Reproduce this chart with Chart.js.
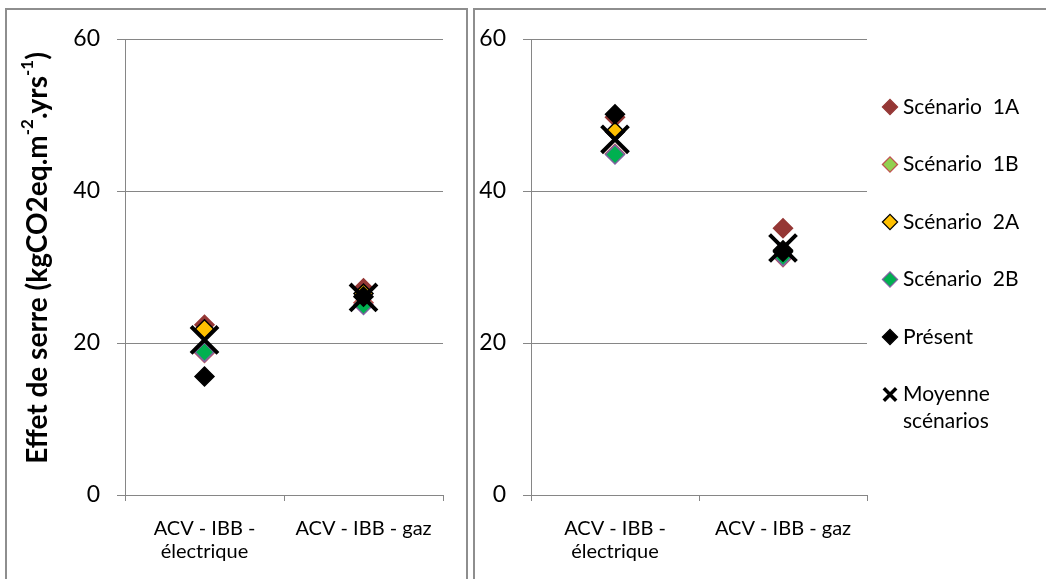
<!DOCTYPE html>
<html>
<head>
<meta charset="utf-8">
<script src="https://cdn.jsdelivr.net/npm/chart.js@4/dist/chart.umd.min.js"></script>
<style>
  html, body { margin: 0; padding: 0; background: #ffffff; width: 1046px; height: 579px; overflow: hidden; }
  .box { position: absolute; border: 2px solid #8e8e8e; box-sizing: border-box; }
  #boxL { left: 5px; top: 8px; width: 463px; height: 600px; }
  #boxR { left: 473px; top: 8px; width: 600px; height: 600px; }
  canvas { position: absolute; left: 0; top: 0; }
</style>
</head>
<body>
<div class="box" id="boxL"></div>
<div class="box" id="boxR"></div>
<canvas id="cL" width="1046" height="579"></canvas>
<canvas id="cR" width="1046" height="579"></canvas>
<script>
// ---- data ----
const categories = [["ACV - IBB -", "électrique"], "ACV - IBB - gaz"];
const seriesNames = ["Scénario  1A", "Scénario  1B", "Scénario  2A", "Scénario  2B", "Présent", "Moyenne scénarios"];
const legendLines = [["Scénario  1A"], ["Scénario  1B"], ["Scénario  2A"], ["Scénario  2B"], ["Présent"], ["Moyenne", "scénarios"]];
const yTicks = [0, 20, 40, 60];
const yTitleMain = "Effet de serre (kgCO2eq.m";
const yTitleSup1 = "-2";
const yTitleMid = ".yrs";
const yTitleSup2 = "-1";
const yTitleEnd = ")";

// left panel
const left1A = [22.4, 27.2];
const left1B = [18.7, 25.3];
const left2A = [21.8, 26.5];
const left2B = [18.8, 25.0];
const leftPresent = [15.6, 26.1];
const leftMean = [20.4, 26.0];

// right panel
const right1A = [49.7, 35.1];
const right1B = [44.9, 31.3];
const right2A = [47.8, 32.2];
const right2B = [44.8, 31.4];
const rightPresent = [50.1, 32.0];
const rightMean = [46.8, 32.5];

// ---- styles ----
const FONT = "Lato, 'Open Sans', sans-serif";
const GRID = "#868686";
const seriesStyles = [
  { pointStyle: "rectRot", backgroundColor: "#953735", borderColor: "#953735", borderWidth: 1.5, radius: 9.5 },
  { pointStyle: "rectRot", backgroundColor: "#92D050", borderColor: "#C0504D", borderWidth: 1.5, radius: 9.5 },
  { pointStyle: "rectRot", backgroundColor: "#FFC000", borderColor: "#000000", borderWidth: 1.5, radius: 9.5 },
  { pointStyle: "rectRot", backgroundColor: "#00B050", borderColor: "#8064A2", borderWidth: 1.5, radius: 9.5 },
  { pointStyle: "rectRot", backgroundColor: "#000000", borderColor: "#000000", borderWidth: 1.5, radius: 9.5 },
  { pointStyle: "crossRot", backgroundColor: "#000000", borderColor: "#000000", borderWidth: 4, radius: 19 }
];
const legendMarkerScale = [0.8, 0.8, 0.8, 0.8, 0.8, 0.46];

function makeDatasets(arrs) {
  return arrs.map((data, i) => ({
    label: seriesNames[i],
    data: data,
    showLine: false,
    order: arrs.length - i,
    pointStyle: seriesStyles[i].pointStyle,
    pointRadius: seriesStyles[i].radius,
    pointHoverRadius: seriesStyles[i].radius,
    pointBackgroundColor: seriesStyles[i].backgroundColor,
    pointBorderColor: seriesStyles[i].borderColor,
    pointBorderWidth: seriesStyles[i].borderWidth,
    backgroundColor: seriesStyles[i].backgroundColor,
    borderColor: seriesStyles[i].borderColor
  }));
}

function makeScales() {
  return {
    x: {
      type: "category",
      offset: true,
      grid: { display: true, drawOnChartArea: false, drawTicks: true, tickLength: 6, color: GRID, offset: true },
      border: { display: true, color: GRID, width: 1 },
      ticks: { color: "#000", font: { family: FONT, size: 20, lineHeight: 1.15 }, padding: 16, maxRotation: 0, autoSkip: false },
      afterFit: (s) => { s.height = 70; }
    },
    y: {
      min: 0, max: 60,
      afterBuildTicks: (s) => { s.ticks = yTicks.map(v => ({ value: v })); },
      grid: { color: GRID, drawTicks: true, tickLength: 8, lineWidth: 1 },
      border: { display: true, color: GRID, width: 1 },
      ticks: { color: "#000", font: { family: FONT, size: 23 }, padding: 17 },
      afterFit: (s) => { s.width = 60; }
    }
  };
}

const yTitlePlugin = {
  id: "yTitle",
  afterDraw(chart) {
    const ctx = chart.ctx;
    const big = "bold 28px " + FONT;
    const small = "bold 17px " + FONT;
    const parts = [
      [yTitleMain, big, 0], [yTitleSup1, small, -10], [yTitleMid, big, 0], [yTitleSup2, small, -10], [yTitleEnd, big, 0]
    ];
    ctx.save();
    let total = 0;
    parts.forEach(p => { ctx.font = p[1]; total += ctx.measureText(p[0]).width; });
    ctx.translate(38, 258);
    ctx.rotate(-Math.PI / 2);
    ctx.fillStyle = "#000";
    ctx.textBaseline = "middle";
    ctx.textAlign = "left";
    let x = -total / 2;
    parts.forEach(p => { ctx.font = p[1]; ctx.fillText(p[0], x, p[2]); x += ctx.measureText(p[0]).width; });
    ctx.restore();
  }
};

const legendPlugin = {
  id: "sideLegend",
  afterDraw(chart) {
    const ctx = chart.ctx;
    const markerX = 890, textX = 903, startY = 107, step = 57.5, lineH = 27;
    ctx.save();
    ctx.font = "21px " + FONT;
    ctx.textBaseline = "middle";
    ctx.textAlign = "left";
    let y = startY;
    chart.data.datasets.forEach((ds, i) => {
      const st = seriesStyles[i];
      ctx.fillStyle = st.backgroundColor;
      ctx.strokeStyle = st.borderColor;
      ctx.lineWidth = st.pointStyle === "crossRot" ? 3.5 : 1.2;
      Chart.helpers.drawPoint(ctx, { pointStyle: st.pointStyle, radius: st.radius * legendMarkerScale[i], rotation: 0, borderWidth: ctx.lineWidth }, markerX, y);
      ctx.fillStyle = "#000";
      legendLines[i].forEach((l, k) => ctx.fillText(l, textX, y + k * lineH));
      y += step;
    });
    ctx.restore();
  }
};

function makeChart(id, arrs, padLeft, padRight, plugins) {
  return new Chart(document.getElementById(id), {
    type: "line",
    data: { labels: categories, datasets: makeDatasets(arrs) },
    options: {
      responsive: false,
      animation: false,
      events: [],
      layout: { padding: { left: padLeft, right: padRight, top: 39, bottom: 579 - 495 - 70 } },
      plugins: { legend: { display: false }, tooltip: { enabled: false } },
      scales: makeScales()
    },
    plugins: plugins
  });
}

makeChart("cL", [left1A, left1B, left2A, left2B, leftPresent, leftMean], 125 - 60, 1046 - 443, [yTitlePlugin]);
makeChart("cR", [right1A, right1B, right2A, right2B, rightPresent, rightMean], 531 - 60, 1046 - 867, [legendPlugin]);
</script>
</body>
</html>
